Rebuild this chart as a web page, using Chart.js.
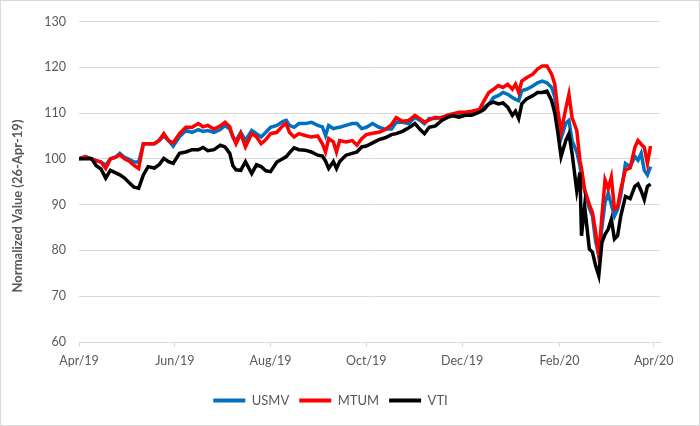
<!DOCTYPE html>
<html>
<head>
<meta charset="utf-8">
<script src="https://cdn.jsdelivr.net/npm/chart.js@4/dist/chart.umd.min.js"></script>
<style>
  html, body { margin: 0; padding: 0; background: #fff; }
  #frame { width: 700px; height: 426px; box-sizing: border-box; border: 1px solid #d9d9d9; }
  #wrap { position: relative; width: 698px; height: 424px; }
</style>
</head>
<body>
<div id="frame"><div id="wrap"><canvas id="chart"></canvas></div></div>
<script>
// days counted from 26-Apr-19 (the normalisation date)
const days = [
    0, 4, 8, 11, 14, 17, 20, 23, 26, 29, 32, 35, 38, 41, 44, 48, 51, 54, 57, 60,
    64, 68, 72, 76, 79, 82, 86, 90, 93, 96, 98, 100, 103, 106, 110, 113, 116, 119,
    122, 126, 130, 132, 134, 137, 140, 144, 148, 152, 155, 157, 159, 162, 164, 166, 170, 174, 177, 180,
    183, 187, 191, 195, 199, 202, 206, 210, 214, 217, 220, 223, 227, 231, 235, 238, 242,
    246, 250, 255, 258, 261, 264, 267, 270, 273, 276, 278, 280, 282, 285, 289, 292, 295, 298, 301, 303,
    305, 307, 310, 312, 314, 317, 319, 320, 322, 325, 327, 329, 331, 333, 335, 337, 339, 341, 343, 345, 348, 351, 354, 356, 358, 360, 362, 364
];

const usmv = [
    100, 100.5, 100, 99.6, 99.3, 98.6, 100, 100.3, 101.2, 100.3, 99.9, 99.3, 99.3, 103.3, 103.3, 103.3, 104, 105, 104, 102.8,
    104.8, 106.2, 105.8, 106.4, 106, 106.2, 105.8, 106.4, 107.3, 106.5, 104.8, 104, 105.8, 104, 106.2, 105.5, 104.8, 105.8,
    106.9, 107.3, 108.2, 108.4, 107.3, 106.9, 107.7, 107.7, 108, 107.3, 107, 105.1, 107.3, 106.6, 106.8, 106.9, 107.3, 107.7, 107.7, 106.6,
    106.9, 107.7, 106.9, 106.5, 106.5, 108, 108, 107.7, 109.1, 108.4, 107.7, 108.8, 108.8, 109.1, 109.5, 109.8, 109.5,
    109.8, 109.8, 110.4, 111.3, 112, 113.4, 113.8, 114.5, 114.1, 113.4, 113, 112.7, 114.9, 115.2, 115.9, 116.6, 117, 116.6, 115.6, 113.5,
    109, 104.5, 107.8, 108.4, 104, 101.5, 98.5, 96, 93, 89.2, 87.5, 82, 78.9, 85, 90.5, 92.5, 90, 87.5, 89, 92, 99, 98.3, 100.5, 99.7, 101.2, 97.5, 96.5, 98.3
];

const mtum = [
    100, 100.5, 100, 99.6, 99.3, 97.9, 100, 100.3, 100.9, 100, 99.5, 98.6, 97.9, 103.3, 103.3, 103.3, 104, 105.5, 104, 103.5,
    105.5, 106.9, 106.9, 107.7, 107, 107.3, 106.5, 107.2, 108, 107, 104.8, 103.3, 105.5, 102.6, 105.5, 104.8, 103.3, 104.2,
    105.5, 105.8, 107.3, 107.7, 105.8, 104.8, 105.5, 105.1, 104.8, 105, 103.3, 101.5, 104.4, 103.7, 101.5, 104, 103.7, 104, 103, 104.4,
    105.3, 105.6, 105.8, 106.4, 107.5, 109, 108.2, 108.4, 109.5, 108.8, 108, 108.5, 109.1, 108.9, 109.6, 109.8, 110.2,
    110.2, 110.4, 110.8, 112.7, 114.5, 115.2, 116, 115.6, 116.3, 115.2, 116.3, 114.5, 117, 117.7, 118.5, 119.6, 120.3, 120.3, 118.5, 116.3,
    110.5, 105.9, 111, 114.1, 109, 106.2, 99.7, 98, 93.3, 90, 88.3, 84, 78.9, 87.5, 95.4, 93.5, 96, 89, 89.5, 93.3, 97.6, 98, 102.5, 104, 103.2, 102.5, 99, 102.8
];

const vti = [
    100, 100, 100, 98.5, 97.8, 95.8, 97.5, 97, 96.5, 95.8, 94.8, 93.8, 93.6, 96.5, 98.3, 98, 98.7, 100.1, 99.4, 99,
    101.2, 101.5, 102, 102, 102.5, 101.8, 102, 103, 102.6, 101.2, 98.5, 97.6, 97.5, 99.4, 96.8, 98.7, 98.3, 97.4,
    97.2, 99.3, 100.1, 100.5, 101.3, 102.4, 102, 101.9, 101.5, 100.8, 100.6, 99.5, 97.9, 99.4, 97.9, 99.4, 100.8, 101.2, 101.5, 102.6,
    102.8, 103.5, 104.2, 104.6, 105.3, 105.5, 106, 106.8, 107.7, 106.5, 105.5, 106.9, 107.2, 108.4, 109.1, 109.4, 109.1,
    109.5, 109.5, 110.2, 110.8, 112, 112.4, 112, 112.2, 111.3, 109.5, 110.4, 108.8, 112, 113.1, 113.8, 114.5, 114.5, 114.8, 112.7, 110,
    105.6, 100.5, 104, 105.5, 101.2, 93, 97, 83.2, 89.7, 80.3, 79.6, 76.7, 74.5, 81.7, 83.5, 84.6, 86.8, 82.5, 83.2, 87.5, 91.8, 91.3, 94, 94.5, 93, 91.1, 94, 94.5
];

// x-axis ticks every two months (26th of the month)
const tickDays = [0, 61, 122, 183, 244, 306, 366];
const tickLabels = ['Apr/19', 'Jun/19', 'Aug/19', 'Oct/19', 'Dec/19', 'Feb/20', 'Apr/20'];
const yTitle = 'Normalized Value (26-Apr-19)';

const gray = '#595959';
const gridGray = '#d9d9d9';
const font = 'Lato, "Noto Sans", sans-serif';

function toPoints(values) {
    return days.map((d, i) => ({ x: d, y: values[i] }));
}

// rotated y title, placed like the Excel original (a bit below the axis middle)
const yTitlePlugin = {
    id: 'yTitle',
    afterDraw(chart) {
        const ctx = chart.ctx;
        ctx.save();
        ctx.translate(17, 205);
        ctx.rotate(-Math.PI / 2);
        ctx.font = 'bold 13px ' + font;
        ctx.fillStyle = gray;
        ctx.textAlign = 'center';
        ctx.textBaseline = 'middle';
        ctx.fillText(yTitle, 0, 0);
        ctx.restore();
    }
};

const lineStyle = { borderWidth: 3.5, pointRadius: 0, tension: 0, fill: false };

new Chart(document.getElementById('chart'), {
    type: 'line',
    data: {
        datasets: [
            { label: 'USMV', data: toPoints(usmv), borderColor: '#0070c0', backgroundColor: '#0070c0', order: 3, ...lineStyle },
            { label: 'MTUM', data: toPoints(mtum), borderColor: '#ff0000', backgroundColor: '#ff0000', order: 2, ...lineStyle },
            { label: 'VTI', data: toPoints(vti), borderColor: '#000000', backgroundColor: '#000000', order: 1, ...lineStyle }
        ]
    },
    options: {
        responsive: true,
        maintainAspectRatio: false,
        animation: false,
        layout: { padding: { top: 12, right: 39, left: 0, bottom: 8 } },
        scales: {
            x: {
                type: 'linear',
                min: 0,
                max: 370,
                afterBuildTicks: scale => { scale.ticks = tickDays.map(v => ({ value: v })); },
                afterFit: scale => { scale.height = 42; },
                ticks: {
                    autoSkip: false,
                    maxRotation: 0,
                    padding: 6,
                    color: gray,
                    font: { family: font, size: 12.5 },
                    callback: v => tickLabels[tickDays.indexOf(v)] || ''
                },
                grid: { drawOnChartArea: false, drawTicks: true, tickLength: 5, color: gridGray },
                border: { display: true, color: gridGray, width: 1 }
            },
            y: {
                min: 60,
                max: 130,
                afterFit: scale => { scale.width = 78; },
                ticks: {
                    stepSize: 10,
                    padding: 13,
                    color: gray,
                    font: { family: font, size: 12.5 }
                },
                grid: { color: gridGray, drawTicks: false, lineWidth: 1 },
                border: { display: false }
            }
        },
        plugins: {
            legend: {
                position: 'bottom',
                labels: {
                    boxWidth: 32,
                    boxHeight: 4,
                    padding: 10,
                    color: gray,
                    font: { family: font, size: 13 },
                    // keep USMV, MTUM, VTI order even though VTI is drawn on top
                    sort: (a, b) => a.datasetIndex - b.datasetIndex,
                    generateLabels: chart => Chart.defaults.plugins.legend.labels.generateLabels(chart)
                        .map(item => ({ ...item, lineWidth: 0 }))
                }
            },
            tooltip: { enabled: false }
        }
    },
    plugins: [yTitlePlugin]
});
</script>
</body>
</html>
